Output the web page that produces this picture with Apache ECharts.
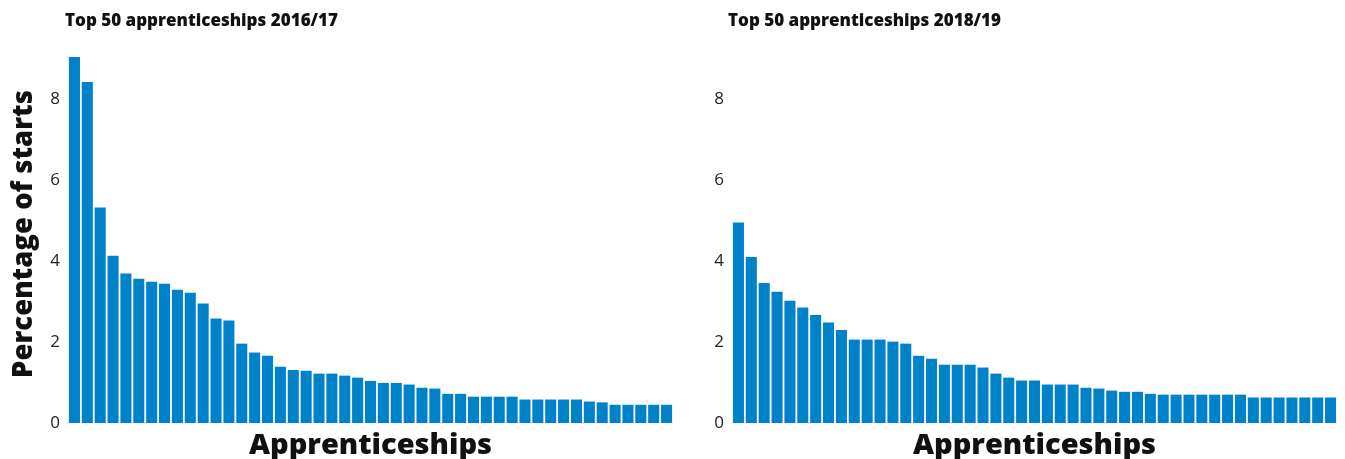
<!DOCTYPE html>
<html><head><meta charset="utf-8">
<script src="https://cdn.jsdelivr.net/npm/echarts@6/dist/echarts.min.js"></script>
<style>html,body{margin:0;padding:0;background:#fff}#c{width:1345px;height:459px}</style>
</head><body><div id="c"></div>
<script>
const titles = ['Top 50 apprenticeships 2016/17', 'Top 50 apprenticeships 2018/19'];
const yTicks = [0, 2, 4, 6, 8];
const values1617 = [9.04, 8.42, 5.32, 4.13, 3.69, 3.56, 3.49, 3.44, 3.29, 3.22,
  2.95, 2.58, 2.53, 1.96, 1.74, 1.66, 1.39, 1.31, 1.29, 1.22,
  1.22, 1.17, 1.12, 1.04, 0.99, 0.99, 0.95, 0.87, 0.85, 0.72,
  0.72, 0.65, 0.65, 0.65, 0.65, 0.58, 0.58, 0.58, 0.58, 0.58,
  0.53, 0.51, 0.45, 0.45, 0.45, 0.45, 0.45];
const values1819 = [4.95, 4.10, 3.46, 3.24, 3.02, 2.85, 2.67, 2.48, 2.30, 2.06,
  2.06, 2.06, 2.01, 1.96, 1.66, 1.59, 1.44, 1.44, 1.44, 1.37,
  1.22, 1.12, 1.05, 1.05, 0.95, 0.95, 0.95, 0.87, 0.85, 0.80,
  0.77, 0.77, 0.72, 0.70, 0.70, 0.70, 0.70, 0.70, 0.70, 0.70,
  0.63, 0.63, 0.63, 0.63, 0.63, 0.63, 0.63];
const cats1 = values1617.map((v, i) => 'A' + (i + 1));
const cats2 = values1819.map((v, i) => 'B' + (i + 1));
const yMax = Math.max(...values1617, ...values1819);

const chart = echarts.init(document.getElementById('c'), null, {renderer: 'canvas'});
const heavy = 'Open Sans';
const tickFont = {fontFamily: 'Open Sans', fontSize: 17, color: '#222', margin: 8,
  formatter: v => (yTicks.includes(v) ? String(v) : '')};
const yAxisBase = {type: 'value', min: 0, max: yMax, interval: 2,
  axisLine: {show: false}, axisTick: {show: false}, splitLine: {show: false},
  axisLabel: tickFont};
const xName = {name: 'Apprenticeships', nameLocation: 'middle', nameGap: 8,
  nameTextStyle: {fontFamily: heavy, fontWeight: 800, fontSize: 29, color: '#111'}};
const titleStyle = {fontFamily: heavy, fontWeight: 800, fontSize: 17, color: '#111'};
chart.setOption({
  animation: false,
  title: [
    {text: titles[0], left: 60, top: 8, textStyle: titleStyle},
    {text: titles[1], left: 723, top: 8, textStyle: titleStyle}
  ],
  grid: [
    {left: 68, width: 605, top: 57, bottom: 36, outerBoundsMode: 'none', containLabel: false},
    {left: 732, width: 605, top: 57, bottom: 36, outerBoundsMode: 'none', containLabel: false}
  ],
  xAxis: [
    Object.assign({type: 'category', data: cats1, gridIndex: 0, axisLine: {show: false}, axisTick: {show: false}, axisLabel: {show: false}}, xName),
    Object.assign({type: 'category', data: cats2, gridIndex: 1, axisLine: {show: false}, axisTick: {show: false}, axisLabel: {show: false}}, xName)
  ],
  yAxis: [
    Object.assign({gridIndex: 0, name: 'Percentage of starts', nameLocation: 'middle', nameGap: 30,
      nameTextStyle: {fontFamily: heavy, fontWeight: 800, fontSize: 27.5, color: '#111', padding: [0, 0, 0, 12]}}, yAxisBase),
    Object.assign({gridIndex: 1}, yAxisBase)
  ],
  series: [
    {type: 'bar', xAxisIndex: 0, yAxisIndex: 0, data: values1617, barCategoryGap: '14%', itemStyle: {color: '#0082ca'}},
    {type: 'bar', xAxisIndex: 1, yAxisIndex: 1, data: values1819, barCategoryGap: '14%', itemStyle: {color: '#0082ca'}}
  ]
});
</script></body></html>
